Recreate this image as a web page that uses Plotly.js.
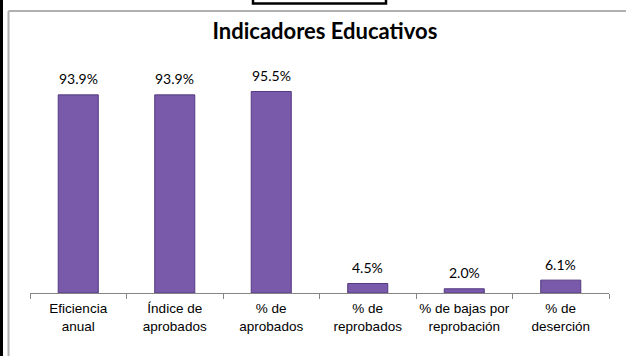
<!DOCTYPE html>
<html>
<head>
<meta charset="utf-8">
<script src="https://cdn.plot.ly/plotly-3.0.1.min.js"></script>
<style>html,body{margin:0;padding:0;background:#fff;}#chart{width:626px;height:356px;}</style>
</head>
<body>
<div id="chart"></div>
<script>
const categories = ["Eficiencia<br>anual", "Índice de<br>aprobados", "% de<br>aprobados", "% de<br>reprobados", "% de bajas por<br>reprobación", "% de<br>deserción"];
const values = [93.9, 93.9, 95.5, 4.5, 2.0, 6.1];
const valueLabels = ["93.9%", "93.9%", "95.5%", "4.5%", "2.0%", "6.1%"];

const W = 626, H = 356;
const M = {l: 30, r: 17, t: 82, b: 63};
const pw = W - M.l - M.r, ph = H - M.t - M.b;
const px = v => (v - M.l) / pw;
const py = v => (H - M.b - v) / ph;

const trace = {
  type: "bar",
  x: categories,
  y: values,
  marker: {color: "#7859aa", line: {color: "#543a80", width: 1}},
  hoverinfo: "skip"
};

const annotations = values.map((v, i) => ({
  x: categories[i], y: v, xref: "x", yref: "y",
  text: valueLabels[i], showarrow: false,
  yanchor: "middle", yshift: 16,
  font: {family: "Lato, 'Open Sans', sans-serif", size: 14, color: "#000"}
}));

const shapes = [
  {type: "line", xref: "paper", yref: "paper", x0: px(1.5), x1: px(1.5), y0: py(0), y1: py(H), line: {color: "#000", width: 3}},
  {type: "line", xref: "paper", yref: "paper", x0: px(8.5), x1: px(8.5), y0: py(11), y1: py(H), line: {color: "#b0b0b0", width: 2}},
  {type: "line", xref: "paper", yref: "paper", x0: px(8.5), x1: px(W), y0: py(11), y1: py(11), line: {color: "#b0b0b0", width: 2}},
  {type: "rect", xref: "paper", yref: "paper", x0: px(253), x1: px(386), y0: py(3.5), y1: py(-10), line: {color: "#000", width: 2.5}, fillcolor: "rgba(0,0,0,0)"}
];

const layout = {
  width: W, height: H,
  margin: M,
  paper_bgcolor: "#fff", plot_bgcolor: "#fff",
  showlegend: false,
  bargap: 0.585,
  title: {text: "<b>Indicadores Educativos</b>", x: 0.519, xanchor: "center", y: 1 - 31 / H, yanchor: "middle",
    font: {family: "Lato, 'Open Sans', sans-serif", size: 22, color: "#000"}},
  xaxis: {
    type: "category",
    showline: true, linecolor: "#868686", linewidth: 1,
    ticks: "outside", tickson: "boundaries", ticklen: 5, tickcolor: "#868686",
    tickangle: 0, ticklabelstandoff: 3,
    tickfont: {family: "'Liberation Sans', Arial, sans-serif", size: 13.5, color: "#000"},
    showgrid: false, zeroline: false, fixedrange: true
  },
  yaxis: {
    range: [0, 100], visible: false, showgrid: false, zeroline: false, fixedrange: true
  },
  annotations: annotations,
  shapes: shapes
};

Plotly.newPlot("chart", [trace], layout, {displayModeBar: false, staticPlot: true});
</script>
</body>
</html>
